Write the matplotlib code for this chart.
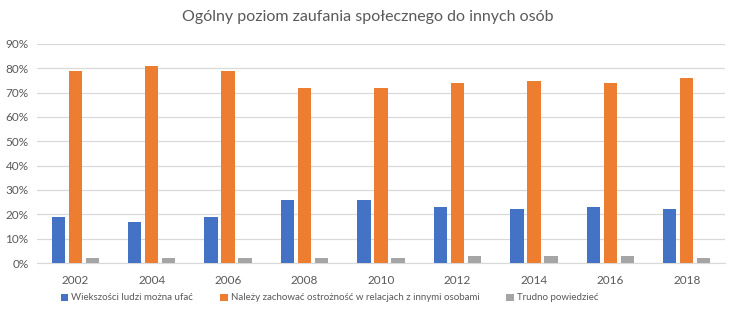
import matplotlib
matplotlib.use("Agg")
import matplotlib.pyplot as plt
import numpy as np
from matplotlib.ticker import PercentFormatter

years = ["2002", "2004", "2006", "2008", "2010", "2012", "2014", "2016", "2018"]
most_trust = [19, 17, 19, 26, 26, 23, 22, 23, 22]
be_careful = [79, 81, 79, 72, 72, 74, 75, 74, 76]
hard_to_say = [2, 2, 2, 2, 2, 3, 3, 3, 2]
series_names = [
    "Wiekszości ludzi można ufać",
    "Należy zachować ostrożność w relacjach z innymi osobami",
    "Trudno powiedzieć",
]
colors = ["#4472C4", "#ED7D31", "#A5A5A5"]

plt.rcParams["font.family"] = ["Lato", "DejaVu Sans"]

fig = plt.figure(figsize=(7.36, 3.23), dpi=100)
ax = fig.add_axes([37/736, 1-263/323, (725-37)/736, (263-44)/323])

x = np.arange(len(years))
w = 0.175
off = 0.222
for i, (vals, name, c) in enumerate(zip([most_trust, be_careful, hard_to_say], series_names, colors)):
    ax.bar(x + (i-1)*off, np.array(vals)/100, width=w, color=c, label=name, zorder=3)

ax.set_xlim(-0.5, len(years)-0.5)
ax.set_ylim(0, 0.9)
ax.set_yticks(np.arange(0, 0.91, 0.1))
ax.yaxis.set_major_formatter(PercentFormatter(1.0, decimals=0))
ax.set_xticks(x)
ax.set_xticklabels(years)
ax.grid(axis="y", color="#D9D9D9", linewidth=0.9, zorder=0)
for s in ["top", "right", "left"]:
    ax.spines[s].set_visible(False)
ax.spines["bottom"].set_color("#D9D9D9")
ax.tick_params(axis="both", length=0, labelsize=8.5, colors="#595959")
ax.tick_params(axis="y", pad=6)
ax.tick_params(axis="x", pad=9)

fig.text(0.5, 1-17/323, "Ogólny poziom zaufania społecznego do innych osób",
         ha="center", va="center", fontsize=11.5, color="#595959")

leg = fig.legend(loc="center left", bbox_to_anchor=(61/736, 1-298/323), ncol=3, frameon=False,
                 fontsize=7, handlelength=0.75, handleheight=0.75, handletextpad=0.3,
                 columnspacing=2.8, labelcolor="#595959", borderpad=0, borderaxespad=0)

fig.savefig("out.png", dpi=100)
